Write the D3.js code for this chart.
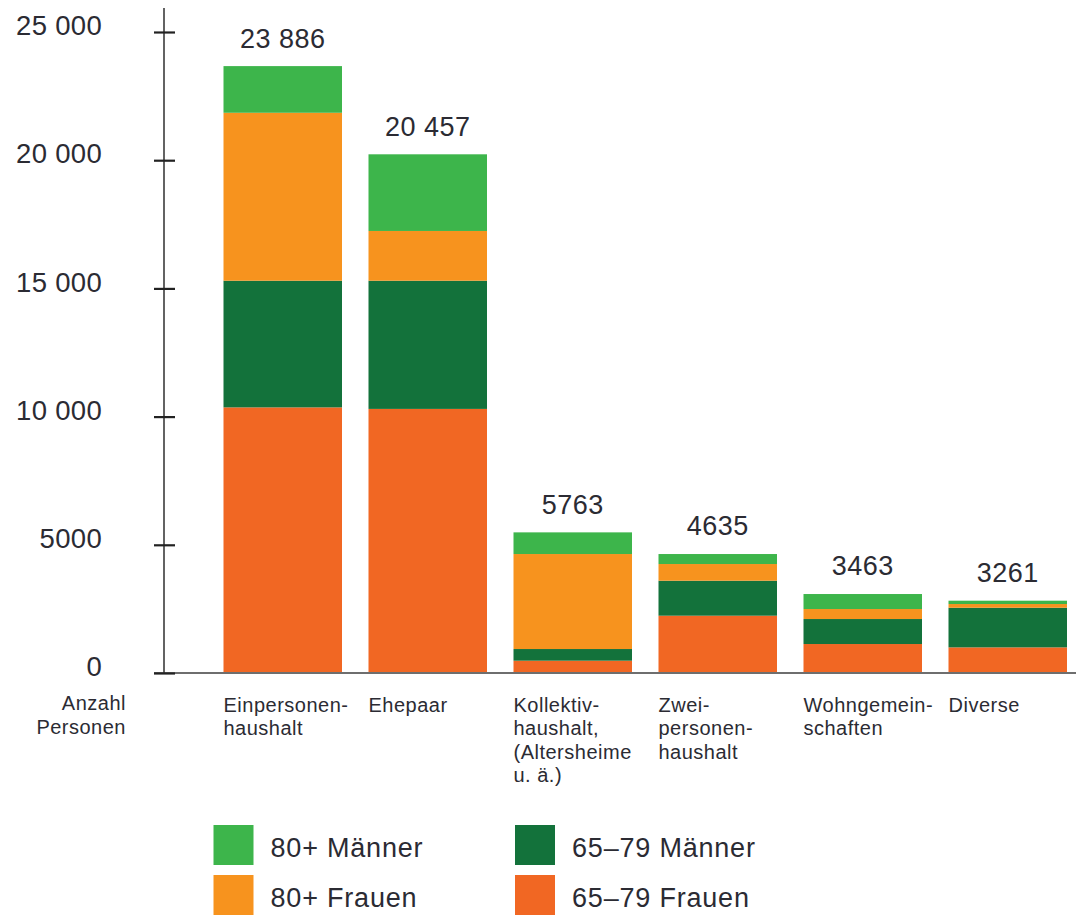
<!DOCTYPE html>
<html><head><meta charset="utf-8">
<script src="https://cdn.jsdelivr.net/npm/d3@7/dist/d3.min.js"></script>
<style>
html,body{margin:0;padding:0;background:#fff;}
svg{display:block;font-family:"Liberation Sans",Arial,sans-serif;}
</style></head>
<body><svg id="c" width="1076" height="919"></svg>
<script>
const categories = ["Einpersonenhaushalt","Ehepaar","Kollektivhaushalt","Zweipersonenhaushalt","Wohngemeinschaften","Diverse"];
const categoryLines = [["Einpersonen-","haushalt"],["Ehepaar"],["Kollektiv-","haushalt,","(Altersheime","u. ä.)"],["Zwei-","personen-","haushalt"],["Wohngemein-","schaften"],["Diverse"]];
const frauen6579  = [10360, 10300, 480, 2235, 1130, 1000];
const maenner6579 = [4940, 5000, 455, 1365, 975, 1545];
const frauen80    = [6550, 1940, 3705, 650, 390, 145];
const maenner80   = [1820, 2990, 845, 390, 585, 130];
const totalLabels = ["23 886","20 457","5763","4635","3463","3261"];
const yTicks = [0,5000,10000,15000,20000,25000];
const seriesNames = ["65–79 Frauen","65–79 Männer","80+ Frauen","80+ Männer"];
const seriesColors = ["#f16723","#13723b","#f7931e","#3db54b"];

const svg = d3.select("#c");
const textColor = "#2b2b33";

const x = d3.scaleBand().domain(categories).range([223.5,1067]).paddingInner(26.5/145).paddingOuter(0);
const y = d3.scaleLinear().domain([0,25000]).range([673,32]);

const rows = categories.map((c,i)=>({cat:c, s0:frauen6579[i], s1:maenner6579[i], s2:frauen80[i], s3:maenner80[i]}));
const stack = d3.stack().keys(["s0","s1","s2","s3"]);
const stacked = stack(rows);

// bars
svg.append("g").selectAll("g").data(stacked).join("g")
  .attr("fill",(d,i)=>seriesColors[i])
  .selectAll("rect").data(d=>d).join("rect")
  .attr("x",d=>x(d.data.cat))
  .attr("width",x.bandwidth())
  .attr("y",d=>y(d[1]))
  .attr("height",d=>y(d[0])-y(d[1]));

// baseline
svg.append("line").attr("x1",154).attr("x2",1076).attr("y1",y(0)).attr("y2",y(0))
  .attr("stroke","#6e6e6e").attr("stroke-width",2);

// y axis
const axisX = 164;
svg.append("line").attr("x1",axisX).attr("x2",axisX).attr("y1",8).attr("y2",y(0))
  .attr("stroke","#3c3c3c").attr("stroke-width",1.6);
const fmt = d => d>=10000 ? d3.format(",")(d).replace(","," ") : String(d);
const ax = svg.append("g").attr("transform",`translate(${axisX},0)`)
  .call(d3.axisLeft(y).tickValues(yTicks).tickFormat(fmt).tickSize(0));
ax.select(".domain").remove();
ax.selectAll(".tick line").attr("x1",-10).attr("x2",11).attr("stroke","#222").attr("stroke-width",2.2);
ax.selectAll(".tick text").attr("x",-62).attr("dy","0.35em").attr("y",-7)
  .attr("font-size",27.5).attr("letter-spacing","0.3px").attr("fill",textColor).attr("font-family","Liberation Sans, Arial, sans-serif");

// total labels
svg.append("g").selectAll("text").data(rows).join("text")
  .attr("x",d=>x(d.cat)+x.bandwidth()/2)
  .attr("y",(d,i)=>y(d.s0+d.s1+d.s2+d.s3)-28)
  .attr("dy","0.35em")
  .attr("text-anchor","middle").attr("font-size",27).attr("letter-spacing","0.5px").attr("fill",textColor)
  .text((d,i)=>totalLabels[i]);

// category labels
const cl = svg.append("g").attr("font-size",20).attr("letter-spacing","0.5px").attr("fill",textColor);
categoryLines.forEach((lines,i)=>{
  const t = cl.append("text").attr("x",x(categories[i])).attr("y",712);
  lines.forEach((ln,j)=>t.append("tspan").attr("x",x(categories[i])).attr("y",712+j*23.3).text(ln));
});
// y axis title
const yt = svg.append("text").attr("font-size",20).attr("letter-spacing","0.5px").attr("fill",textColor).attr("text-anchor","end");
yt.append("tspan").attr("x",126).attr("y",710).text("Anzahl");
yt.append("tspan").attr("x",126).attr("y",734).text("Personen");

// legend
const legendItems = [
  {name:seriesNames[3], color:seriesColors[3], x:213.5, y:825},
  {name:seriesNames[2], color:seriesColors[2], x:213.5, y:875},
  {name:seriesNames[1], color:seriesColors[1], x:515, y:825},
  {name:seriesNames[0], color:seriesColors[0], x:515, y:875}
];
const lg = svg.append("g").selectAll("g").data(legendItems).join("g");
lg.append("rect").attr("x",d=>d.x).attr("y",d=>d.y).attr("width",40).attr("height",40).attr("fill",d=>d.color);
lg.append("text").attr("x",d=>d.x+57).attr("y",d=>d.y+32).attr("font-size",27).attr("letter-spacing","0.8px")
  .attr("fill",textColor).text(d=>d.name);
</script></body></html>
